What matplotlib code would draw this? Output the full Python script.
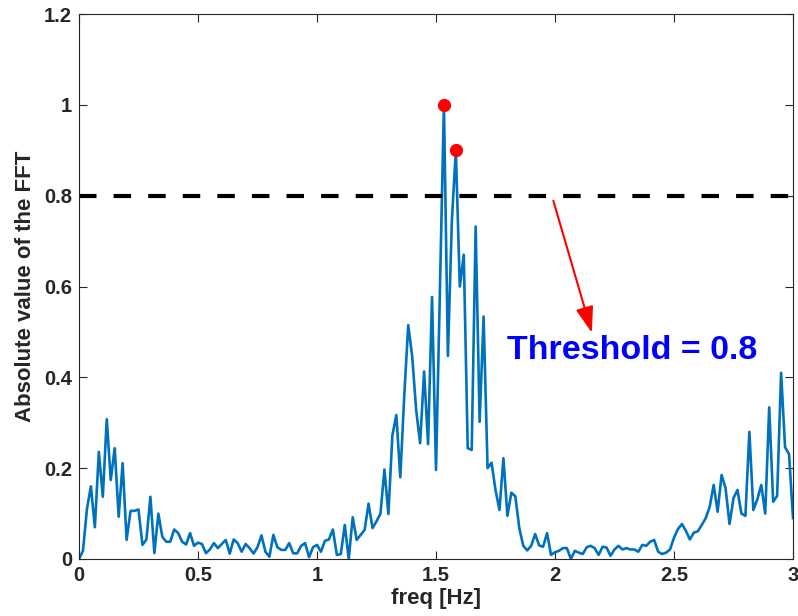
import numpy as np
import matplotlib
matplotlib.use('Agg')
import matplotlib.pyplot as plt

plt.rcParams['font.family'] = ['Liberation Sans', 'DejaVu Sans']
plt.rcParams['font.weight'] = 'bold'

# FFT magnitude, bins spaced 1/60 Hz from 0 to 3 Hz
fft_abs = [
    0.0, 0.018, 0.11, 0.16, 0.07, 0.236, 0.137, 0.308, 0.174, 0.244,
    0.093, 0.211, 0.042, 0.106, 0.106, 0.109, 0.031, 0.043, 0.137, 0.013,
    0.10, 0.049, 0.038, 0.038, 0.065, 0.057, 0.038, 0.032, 0.057, 0.029,
    0.036, 0.033, 0.013, 0.021, 0.035, 0.024, 0.033, 0.042, 0.012, 0.043,
    0.035, 0.016, 0.033, 0.024, 0.012, 0.026, 0.052, 0.016, 0.005, 0.053,
    0.026, 0.020, 0.020, 0.035, 0.0125, 0.0125, 0.029, 0.035, 0.004, 0.026,
    0.031, 0.016, 0.040, 0.043, 0.065, 0.009, 0.011, 0.075, 0.0, 0.092,
    0.042, 0.053, 0.064, 0.122, 0.068, 0.083, 0.10, 0.197, 0.099, 0.272,
    0.317, 0.18, 0.36, 0.515, 0.446, 0.328, 0.255, 0.413, 0.253, 0.577,
    0.196, 0.6, 1.0, 0.447, 0.745, 0.9, 0.6, 0.67, 0.244, 0.24,
    0.732, 0.302, 0.534, 0.2, 0.212, 0.152, 0.108, 0.222, 0.095, 0.146,
    0.138, 0.068, 0.029, 0.019, 0.029, 0.055, 0.03, 0.027, 0.057, 0.009,
    0.015, 0.018, 0.024, 0.024, 0.0, 0.018, 0.014, 0.011, 0.026, 0.029,
    0.024, 0.009, 0.027, 0.025, 0.007, 0.021, 0.029, 0.021, 0.024, 0.021,
    0.021, 0.016, 0.031, 0.029, 0.038, 0.042, 0.016, 0.011, 0.014, 0.021,
    0.047, 0.066, 0.077, 0.062, 0.043, 0.058, 0.061, 0.075, 0.09, 0.115,
    0.163, 0.104, 0.185, 0.156, 0.077, 0.134, 0.152, 0.10, 0.095, 0.28,
    0.108, 0.131, 0.163, 0.10, 0.334, 0.126, 0.139, 0.41, 0.246, 0.231,
    0.09,
]
freq = np.linspace(0, 3, len(fft_abs))

threshold = 0.8
peak_freq = [92 / 60, 95 / 60]
peak_val = [1.0, 0.9]

xticks = [0, 0.5, 1, 1.5, 2, 2.5, 3]
xticklabels = ['0', '0.5', '1', '1.5', '2', '2.5', '3']
yticks = [0, 0.2, 0.4, 0.6, 0.8, 1.0, 1.2]
yticklabels = ['0', '0.2', '0.4', '0.6', '0.8', '1', '1.2']

fig = plt.figure(figsize=(7.98, 6.16), dpi=100)
ax = fig.add_axes([79 / 798, 1 - 559 / 616, (793 - 79) / 798, (559 - 14) / 616])

ax.plot(freq, fft_abs, color='#0072BD', lw=1.9)
ax.plot(peak_freq, peak_val, 'o', color='red', markersize=8.5)

# threshold line
ax.plot([0, 3], [threshold, threshold], color='black', lw=3, dashes=(4.2, 4.1))

ax.annotate('', xy=(2.155, 0.498), xytext=(1.993, 0.789),
            arrowprops=dict(arrowstyle='-|>,head_length=0.8,head_width=0.27',
                            mutation_scale=20, color='red', lw=1.5,
                            shrinkA=0, shrinkB=0))
ax.text(1.80, 0.458, 'Threshold = 0.8', color='blue', fontsize=24.5,
        fontweight='bold', ha='left', va='center')

ax.set_xlim(0, 3)
ax.set_ylim(0, 1.2)
ax.set_xticks(xticks)
ax.set_xticklabels(xticklabels)
ax.set_yticks(yticks)
ax.set_yticklabels(yticklabels)
ax.tick_params(direction='in', length=6, width=0.8, colors='#262626',
               labelsize=14.5, top=True, right=True, pad=5)
for s in ax.spines.values():
    s.set_color('#262626')
    s.set_linewidth(0.8)

ax.set_xlabel('freq [Hz]', fontsize=16, fontweight='bold', color='#262626', labelpad=2)
ax.set_ylabel('Absolute value of the FFT', fontsize=16, fontweight='bold',
              color='#262626', labelpad=6)

fig.savefig('out.png', dpi=100)
